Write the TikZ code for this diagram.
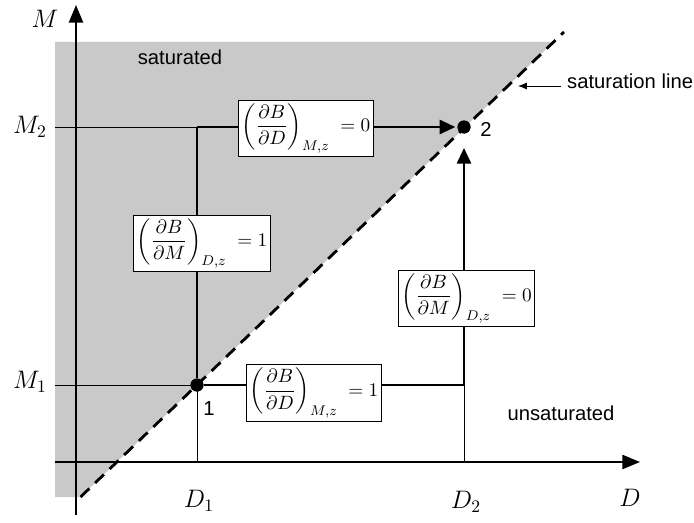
\documentclass[tikz,border=0pt]{standalone}
\usepackage{amsmath, amssymb}
\usepackage{fontspec}
\setsansfont{Liberation Sans}
\usepackage{tikz}
\usetikzlibrary{arrows.meta, calc}

\begin{document}
\begin{tikzpicture}[
		axis/.style={line width=1.3pt, -{Triangle[length=10pt,width=8pt]}},
		guide/.style={line width=0.5pt},
		route/.style={line width=1.6pt},
		satline/.style={line width=1.6pt, dash pattern=on 7pt off 4.5pt},
		deriv/.style={draw, fill=white, line width=0.6pt, inner sep=1.8pt, font=\fontsize{11}{13}\selectfont},
		state/.style={circle, fill=black, inner sep=0pt, minimum size=0.26cm},
		region/.style={font=\sffamily\fontsize{11.5}{13}\selectfont},
	]
	\useasboundingbox (-1.52,-1.2) rectangle (12.36,9.24);
	% saturated region
	\fill[gray!42] (-0.42,-0.7) -- (-0.42,8.4) -- (9.55,8.4) -- (0.09,-0.7) -- cycle;
	% axes
	\coordinate (xs) at (-0.42,0);
	\coordinate (xe) at (11.28,0);
	\coordinate (ys) at (0,-1.06);
	\coordinate (ye) at (0,9.14);
	\draw[axis] (xs) -- (xe);
	\draw[axis] (ys) -- (ye);
	% states 1 and 2
	\coordinate (m1) at (-0.42,1.54);
	\coordinate (m2) at (-0.42,6.7);
	\coordinate (c1) at (2.42,6.7);
	\coordinate (c2) at (7.76,1.54);
	\coordinate (d1) at (2.42,0);
	\coordinate (d2) at (7.76,0);
	% guide lines
	\draw[guide] (m2) -- (c1);
	\draw[guide] (m1) -- (2.42,1.54) -- (d1);
	\draw[guide] (c2) -- (d2);
	% saturation line
	\coordinate (sl0) at (0.09,-0.7);
	\coordinate (sl1) at (9.76,8.6);
	\draw[satline] (sl0) -- (sl1);
	\node[state] (p1) at (2.42,1.54) {};
	\node[state] (p2) at (7.76,6.7) {};
	% path via saturated side
	\draw[route] (p1) -- (c1);
	\draw[route, -{Triangle[length=9pt,width=8pt]}, shorten >=1pt] (c1) -- (p2);
	% path via unsaturated side
	\draw[route] (p1) -- (c2);
	\draw[route, -{Triangle[length=9pt,width=8pt]}, shorten >=8pt] (c2) -- (p2);
	% derivative boxes
	\node[deriv] (dtop) at (4.6,6.67) {$\left(\dfrac{\partial B}{\partial D}\right)_{M,z}\; = 0$};
	\node[deriv] (dleft) at (2.52,4.37) {$\left(\dfrac{\partial B}{\partial M}\right)_{D,z}\; = 1$};
	\node[deriv] (dbot) at (4.76,1.38) {$\left(\dfrac{\partial B}{\partial D}\right)_{M,z}\; = 1$};
	\node[deriv] (dright) at (7.81,3.27) {$\left(\dfrac{\partial B}{\partial M}\right)_{D,z}\; = 0$};
	\node[state] at (p1) {};
	\node[state] at (p2) {};
	% labels
	\node[region] (n1) at (2.66,1.06) {1};
	\node[region] (n2) at (8.2,6.66) {2};
	\node[font=\Large] (lm) at (-0.62,8.86) {$M$};
	\node[font=\Large, anchor=east] (lm2) at (-0.46,6.7) {$M_2$};
	\node[font=\Large, anchor=east] (lm1) at (-0.46,1.6) {$M_1$};
	\node[font=\Large] (ld1) at (2.46,-0.78) {$D_1$};
	\node[font=\Large] (ld2) at (7.8,-0.8) {$D_2$};
	\node[font=\Large] (ld) at (11.08,-0.72) {$D$};
	\node[region] (sat) at (2.08,8.1) {saturated};
	\node[region] (unsat) at (9.7,0.98) {unsaturated};
	\node[region, anchor=west] (satlab) at (9.7,7.62) {saturation line};
	\coordinate (sattip) at (8.84,7.52);
	\draw[guide, -{Latex[length=5pt,width=4pt]}] (satlab.west |- sattip) -- (sattip);
\end{tikzpicture}
\end{document}
